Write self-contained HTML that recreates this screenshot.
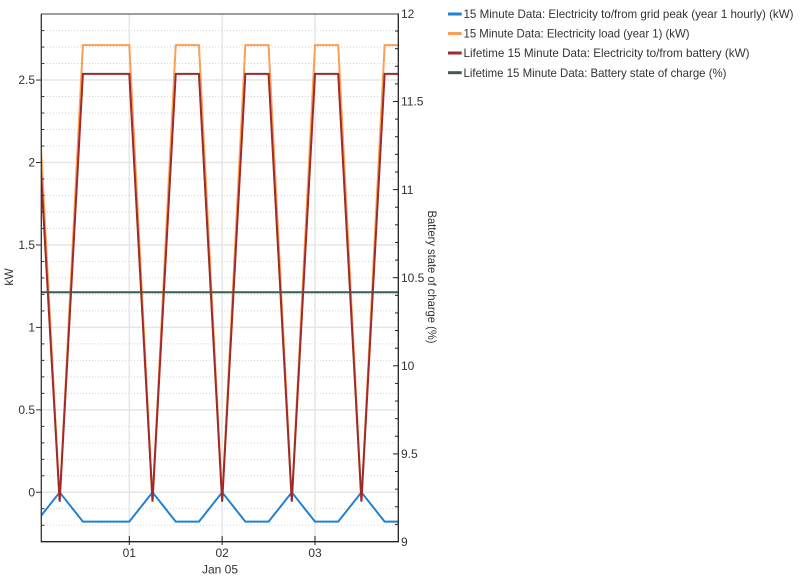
<!DOCTYPE html>
<html><head><meta charset="utf-8"><style>
html,body{margin:0;padding:0;background:#fff;}
svg{display:block;}
text{font-family:"Liberation Sans",sans-serif;font-size:12px;fill:#333;}
</style></head><body>
<svg width="800" height="584" viewBox="0 0 800 584" xmlns="http://www.w3.org/2000/svg">
<defs><clipPath id="pc"><rect x="41.3" y="14" width="357" height="527.7"/></clipPath></defs>
<rect width="800" height="584" fill="#fff"/>
<!-- minor dotted grid -->
<g stroke="#d4d4d4" stroke-width="1" stroke-dasharray="1,2">
<line x1="41" x2="398" y1="525.28" y2="525.28"/><line x1="41" x2="398" y1="508.79" y2="508.79"/>
<line x1="41" x2="398" y1="475.81" y2="475.81"/><line x1="41" x2="398" y1="459.32" y2="459.32"/>
<line x1="41" x2="398" y1="442.83" y2="442.83"/><line x1="41" x2="398" y1="426.34" y2="426.34"/>
<line x1="41" x2="398" y1="393.36" y2="393.36"/><line x1="41" x2="398" y1="376.87" y2="376.87"/>
<line x1="41" x2="398" y1="360.38" y2="360.38"/><line x1="41" x2="398" y1="343.89" y2="343.89"/>
<line x1="41" x2="398" y1="310.91" y2="310.91"/><line x1="41" x2="398" y1="294.42" y2="294.42"/>
<line x1="41" x2="398" y1="277.93" y2="277.93"/><line x1="41" x2="398" y1="261.44" y2="261.44"/>
<line x1="41" x2="398" y1="228.46" y2="228.46"/><line x1="41" x2="398" y1="211.97" y2="211.97"/>
<line x1="41" x2="398" y1="195.48" y2="195.48"/><line x1="41" x2="398" y1="178.99" y2="178.99"/>
<line x1="41" x2="398" y1="146.01" y2="146.01"/><line x1="41" x2="398" y1="129.52" y2="129.52"/>
<line x1="41" x2="398" y1="113.03" y2="113.03"/><line x1="41" x2="398" y1="96.54" y2="96.54"/>
<line x1="41" x2="398" y1="63.56" y2="63.56"/><line x1="41" x2="398" y1="47.07" y2="47.07"/>
<line x1="41" x2="398" y1="30.58" y2="30.58"/>
</g>
<!-- major grid -->
<g stroke="#e6e6e6" stroke-width="1.5">
<line x1="41" x2="398" y1="492.3" y2="492.3"/><line x1="41" x2="398" y1="409.85" y2="409.85"/>
<line x1="41" x2="398" y1="327.4" y2="327.4"/><line x1="41" x2="398" y1="244.95" y2="244.95"/>
<line x1="41" x2="398" y1="162.5" y2="162.5"/><line x1="41" x2="398" y1="80.05" y2="80.05"/>
<line x1="129.3" x2="129.3" y1="14" y2="541.7"/><line x1="222.15" x2="222.15" y1="14" y2="541.7"/>
<line x1="315" x2="315" y1="14" y2="541.7"/>
</g>
<!-- series -->
<g clip-path="url(#pc)" fill="none" stroke-width="2" stroke-linejoin="miter">
<polyline stroke="#1f82d2" points="36.45,521.65 59.66,492.3 82.88,521.65 129.3,521.65 152.51,492.3 175.73,521.65 198.94,521.65 222.15,492.3 245.36,521.65 268.58,521.65 291.79,492.3 315,521.65 338.21,521.65 361.43,492.3 384.64,521.65 407.85,521.65"/>
<polyline stroke="#fb9f52" points="41,148 59.66,500.5 82.88,45.1 129.3,45.1 152.51,500.5 175.73,45.1 198.94,45.1 222.15,500.5 245.36,45.1 268.58,45.1 291.79,500.5 315,45.1 338.21,45.1 361.43,500.5 384.64,45.1 407.85,45.1"/>
<polyline stroke="#9e2a2a" points="41,172 59.66,501.7 82.88,73.9 129.3,73.9 152.51,501.7 175.73,73.9 198.94,73.9 222.15,501.7 245.36,73.9 268.58,73.9 291.79,501.7 315,73.9 338.21,73.9 361.43,501.7 384.64,73.9 407.85,73.9"/>
<line stroke="#3e5a55" x1="41" x2="398" y1="292.3" y2="292.3"/>
</g>
<!-- axes -->
<line x1="41" x2="398.3" y1="14" y2="14" stroke="#666" stroke-width="1.3"/>
<line x1="41.3" x2="41.3" y1="14" y2="542.2" stroke="#333" stroke-width="1.3"/>
<line x1="398.3" x2="398.3" y1="13.5" y2="542.2" stroke="#222" stroke-width="1.3"/>
<line x1="41" x2="398.5" y1="541.7" y2="541.7" stroke="#222" stroke-width="1.3"/>
<!-- left ticks -->
<g stroke="#333" stroke-width="1">
<line x1="36" x2="41" y1="492.3" y2="492.3"/><line x1="36" x2="41" y1="409.85" y2="409.85"/>
<line x1="36" x2="41" y1="327.4" y2="327.4"/><line x1="36" x2="41" y1="244.95" y2="244.95"/>
<line x1="36" x2="41" y1="162.5" y2="162.5"/><line x1="36" x2="41" y1="80.05" y2="80.05"/>
<line x1="41" x2="44.3" y1="525.28" y2="525.28"/><line x1="41" x2="44.3" y1="508.79" y2="508.79"/>
<line x1="41" x2="44.3" y1="475.81" y2="475.81"/><line x1="41" x2="44.3" y1="459.32" y2="459.32"/>
<line x1="41" x2="44.3" y1="442.83" y2="442.83"/><line x1="41" x2="44.3" y1="426.34" y2="426.34"/>
<line x1="41" x2="44.3" y1="393.36" y2="393.36"/><line x1="41" x2="44.3" y1="376.87" y2="376.87"/>
<line x1="41" x2="44.3" y1="360.38" y2="360.38"/><line x1="41" x2="44.3" y1="343.89" y2="343.89"/>
<line x1="41" x2="44.3" y1="310.91" y2="310.91"/><line x1="41" x2="44.3" y1="294.42" y2="294.42"/>
<line x1="41" x2="44.3" y1="277.93" y2="277.93"/><line x1="41" x2="44.3" y1="261.44" y2="261.44"/>
<line x1="41" x2="44.3" y1="228.46" y2="228.46"/><line x1="41" x2="44.3" y1="211.97" y2="211.97"/>
<line x1="41" x2="44.3" y1="195.48" y2="195.48"/><line x1="41" x2="44.3" y1="178.99" y2="178.99"/>
<line x1="41" x2="44.3" y1="146.01" y2="146.01"/><line x1="41" x2="44.3" y1="129.52" y2="129.52"/>
<line x1="41" x2="44.3" y1="113.03" y2="113.03"/><line x1="41" x2="44.3" y1="96.54" y2="96.54"/>
<line x1="41" x2="44.3" y1="63.56" y2="63.56"/><line x1="41" x2="44.3" y1="47.07" y2="47.07"/>
<line x1="41" x2="44.3" y1="30.58" y2="30.58"/>
</g>
<!-- right ticks -->
<g stroke="#222" stroke-width="1">
<line x1="393" x2="398" y1="453.9" y2="453.9"/><line x1="393" x2="398" y1="365.8" y2="365.8"/>
<line x1="393" x2="398" y1="277.7" y2="277.7"/><line x1="393" x2="398" y1="189.6" y2="189.6"/>
<line x1="393" x2="398" y1="101.5" y2="101.5"/>
<line x1="395" x2="398" y1="524.38" y2="524.38"/><line x1="395" x2="398" y1="506.76" y2="506.76"/>
<line x1="395" x2="398" y1="489.14" y2="489.14"/><line x1="395" x2="398" y1="471.52" y2="471.52"/>
<line x1="395" x2="398" y1="436.28" y2="436.28"/><line x1="395" x2="398" y1="418.66" y2="418.66"/>
<line x1="395" x2="398" y1="401.04" y2="401.04"/><line x1="395" x2="398" y1="383.42" y2="383.42"/>
<line x1="395" x2="398" y1="348.18" y2="348.18"/><line x1="395" x2="398" y1="330.56" y2="330.56"/>
<line x1="395" x2="398" y1="312.94" y2="312.94"/><line x1="395" x2="398" y1="295.32" y2="295.32"/>
<line x1="395" x2="398" y1="260.08" y2="260.08"/><line x1="395" x2="398" y1="242.46" y2="242.46"/>
<line x1="395" x2="398" y1="224.84" y2="224.84"/><line x1="395" x2="398" y1="207.22" y2="207.22"/>
<line x1="395" x2="398" y1="171.98" y2="171.98"/><line x1="395" x2="398" y1="154.36" y2="154.36"/>
<line x1="395" x2="398" y1="136.74" y2="136.74"/><line x1="395" x2="398" y1="119.12" y2="119.12"/>
<line x1="395" x2="398" y1="83.88" y2="83.88"/><line x1="395" x2="398" y1="66.26" y2="66.26"/>
<line x1="395" x2="398" y1="48.64" y2="48.64"/><line x1="395" x2="398" y1="31.02" y2="31.02"/>
</g>
<!-- bottom ticks -->
<g stroke="#222" stroke-width="1">
<line x1="129.3" x2="129.3" y1="536" y2="545"/><line x1="222.15" x2="222.15" y1="536" y2="545"/>
<line x1="315" x2="315" y1="536" y2="545"/>
</g>
<!-- left labels -->
<g text-anchor="end">
<text x="35" y="496.5">0</text><text x="35" y="414">0.5</text><text x="35" y="331.6">1</text>
<text x="35" y="249.1">1.5</text><text x="35" y="166.7">2</text><text x="35" y="84.2">2.5</text>
</g>
<!-- right labels -->
<g text-anchor="start">
<text x="401" y="546.2">9</text><text x="401" y="458.1">9.5</text><text x="401" y="370">10</text>
<text x="401" y="281.9">10.5</text><text x="401" y="193.8">11</text><text x="401" y="105.7">11.5</text>
<text x="401" y="18.2">12</text>
</g>
<!-- x labels -->
<g text-anchor="middle">
<text x="129.3" y="557">01</text><text x="222.15" y="557">02</text><text x="315" y="557">03</text>
<text x="220" y="573.5">Jan 05</text>
</g>
<!-- axis titles -->
<text transform="translate(13,277) rotate(-90)" text-anchor="middle">kW</text>
<text transform="translate(428,277) rotate(90)" text-anchor="middle" textLength="133" lengthAdjust="spacingAndGlyphs">Battery state of charge (%)</text>
<!-- legend -->
<g stroke-width="3">
<line x1="448" x2="461.7" y1="14" y2="14" stroke="#1f82d2"/>
<line x1="448" x2="461.7" y1="33.5" y2="33.5" stroke="#fb9f52"/>
<line x1="448" x2="461.7" y1="53" y2="53" stroke="#9e2a2a"/>
<line x1="448" x2="461.7" y1="72.7" y2="72.7" stroke="#3e5a55"/>
</g>
<text x="463.5" y="18.2" textLength="330" lengthAdjust="spacingAndGlyphs">15 Minute Data: Electricity to/from grid peak (year 1 hourly) (kW)</text>
<text x="463.5" y="37.7" textLength="226" lengthAdjust="spacingAndGlyphs">15 Minute Data: Electricity load (year 1) (kW)</text>
<text x="463.5" y="57.2" textLength="286" lengthAdjust="spacingAndGlyphs">Lifetime 15 Minute Data: Electricity to/from battery (kW)</text>
<text x="463.5" y="76.9" textLength="263" lengthAdjust="spacingAndGlyphs">Lifetime 15 Minute Data: Battery state of charge (%)</text>
</svg>
</body></html>
